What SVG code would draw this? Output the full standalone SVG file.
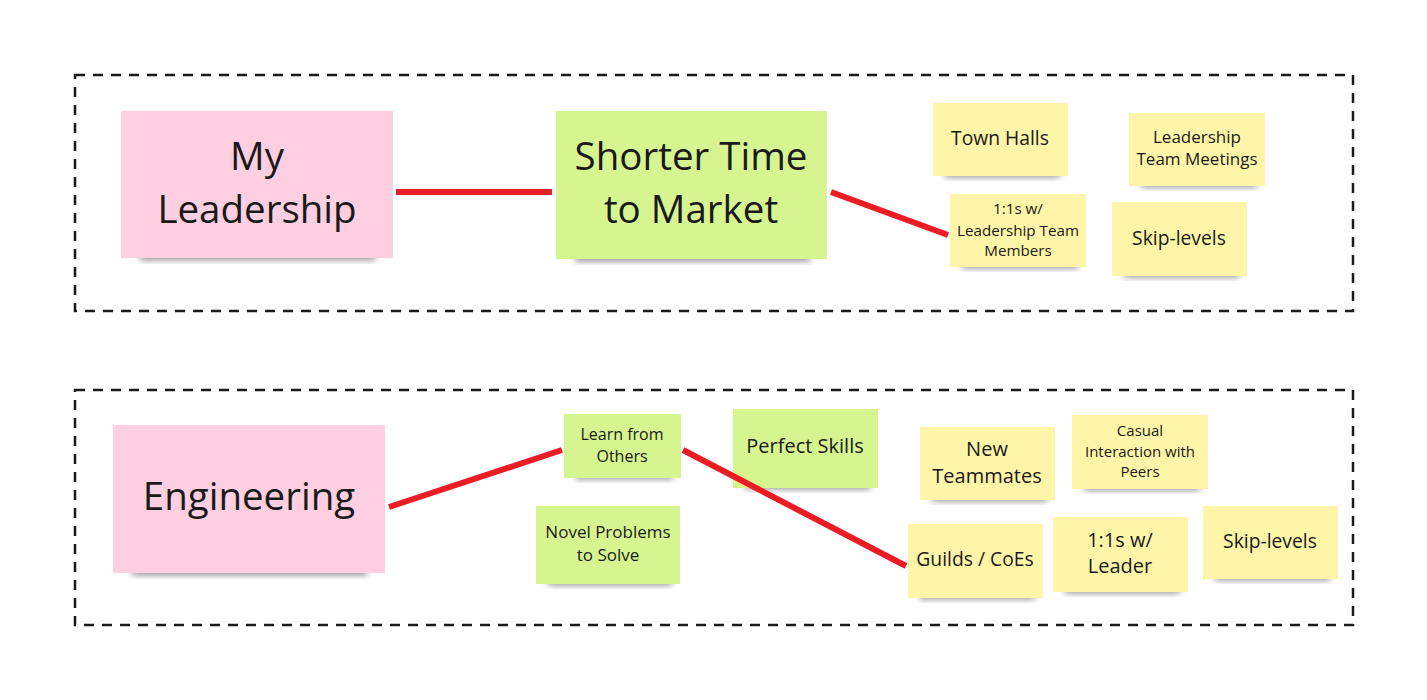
<svg xmlns="http://www.w3.org/2000/svg" width="1427" height="700" viewBox="0 0 1427 700">
<defs>
<filter id="sh" x="-20%" y="-20%" width="140%" height="160%">
<feGaussianBlur stdDeviation="3.5"/>
</filter>
<style>
.frame{fill:none;stroke:#1a1a1a;stroke-width:2.5;stroke-dasharray:10 8}
.shadow{fill:#000;opacity:0.45;filter:url(#sh)}
.pink{fill:#fecfe0}
.green{fill:#d6f591}
.yellow{fill:#fff5a8}
text{font-family:"Open Sans","Noto Sans","Liberation Sans",sans-serif;fill:#1a1a1a;text-anchor:middle}
.edge{stroke:#ec1c24;stroke-width:6;fill:none}
</style>
</defs>
<rect width="1427" height="700" fill="#ffffff"/>
<g id="frames">
<rect class="frame" x="75" y="75" width="1278" height="236"/>
<rect class="frame" x="75" y="390" width="1278" height="235"/>
</g>
<g id="n-myleadership">
<rect class="shadow" x="140" y="250" width="235" height="10"/>
<rect class="pink" x="121" y="111" width="272" height="147"/>
<text font-size="38.5"><tspan x="257" y="170">My</tspan><tspan x="257" y="223">Leadership</tspan></text>
</g>
<g id="n-shorter">
<rect class="shadow" x="575" y="251" width="235" height="10"/>
<rect class="green" x="556" y="111" width="271" height="148"/>
<text font-size="38.5"><tspan x="691" y="170">Shorter Time</tspan><tspan x="691" y="223">to Market</tspan></text>
</g>
<g id="n-townhalls">
<rect class="shadow" x="945" y="169" width="115" height="8"/>
<rect class="yellow" x="933" y="103" width="135" height="73"/>
<text font-size="19.3" x="1000" y="145">Town Halls</text>
</g>
<g id="n-ltm">
<rect class="shadow" x="1141" y="179" width="116" height="8"/>
<rect class="yellow" x="1129" y="113" width="136" height="73"/>
<text font-size="17"><tspan x="1197" y="143">Leadership</tspan><tspan x="1197" y="165">Team Meetings</tspan></text>
</g>
<g id="n-11leadership">
<rect class="shadow" x="962" y="260" width="116" height="8"/>
<rect class="yellow" x="950" y="194" width="136" height="73"/>
<text font-size="15.2"><tspan x="1018" y="214">1:1s w/</tspan><tspan x="1018" y="236">Leadership Team</tspan><tspan x="1018" y="256">Members</tspan></text>
</g>
<g id="n-skip1">
<rect class="shadow" x="1124" y="269" width="115" height="8"/>
<rect class="yellow" x="1112" y="202" width="135" height="74"/>
<text font-size="19.3" x="1179" y="245">Skip-levels</text>
</g>
<g id="n-engineering">
<rect class="shadow" x="132" y="565" width="235" height="10"/>
<rect class="pink" x="113" y="425" width="272" height="148"/>
<text font-size="38.5" x="249" y="510">Engineering</text>
</g>
<g id="n-learn">
<rect class="shadow" x="576" y="471" width="97" height="8"/>
<rect class="green" x="564" y="414" width="117" height="64"/>
<text font-size="16"><tspan x="622" y="440">Learn from</tspan><tspan x="622" y="462">Others</tspan></text>
</g>
<g id="n-perfect">
<rect class="shadow" x="745" y="481" width="125" height="8"/>
<rect class="green" x="733" y="409" width="145" height="79"/>
<text font-size="20" x="805" y="453">Perfect Skills</text>
</g>
<g id="n-novel">
<rect class="shadow" x="548" y="577" width="124" height="8"/>
<rect class="green" x="536" y="506" width="144" height="78"/>
<text font-size="17"><tspan x="608" y="538">Novel Problems</tspan><tspan x="608" y="561">to Solve</tspan></text>
</g>
<g id="n-newteam">
<rect class="shadow" x="932" y="493" width="115" height="8"/>
<rect class="yellow" x="920" y="427" width="135" height="73"/>
<text font-size="20"><tspan x="987" y="456">New</tspan><tspan x="987" y="483">Teammates</tspan></text>
</g>
<g id="n-casual">
<rect class="shadow" x="1084" y="482" width="116" height="8"/>
<rect class="yellow" x="1072" y="415" width="136" height="74"/>
<text font-size="15"><tspan x="1140" y="436">Casual</tspan><tspan x="1140" y="457">Interaction with</tspan><tspan x="1140" y="477">Peers</tspan></text>
</g>
<g id="n-guilds">
<rect class="shadow" x="920" y="591" width="115" height="8"/>
<rect class="yellow" x="908" y="524" width="135" height="74"/>
<text font-size="19.3" x="975" y="566">Guilds / CoEs</text>
</g>
<g id="n-11leader">
<rect class="shadow" x="1065" y="585" width="115" height="8"/>
<rect class="yellow" x="1053" y="517" width="135" height="75"/>
<text font-size="20"><tspan x="1120" y="547">1:1s w/</tspan><tspan x="1120" y="573">Leader</tspan></text>
</g>
<g id="n-skip2">
<rect class="shadow" x="1215" y="572" width="115" height="8"/>
<rect class="yellow" x="1203" y="506" width="135" height="73"/>
<text font-size="19.3" x="1270" y="548">Skip-levels</text>
</g>
<g id="connectors">
<line class="edge" x1="396" y1="192" x2="552" y2="192"/>
<line class="edge" x1="831" y1="192" x2="948" y2="235"/>
<line class="edge" x1="389" y1="507" x2="562" y2="450"/>
<line class="edge" x1="683" y1="450" x2="906" y2="566"/>
</g>
</svg>
